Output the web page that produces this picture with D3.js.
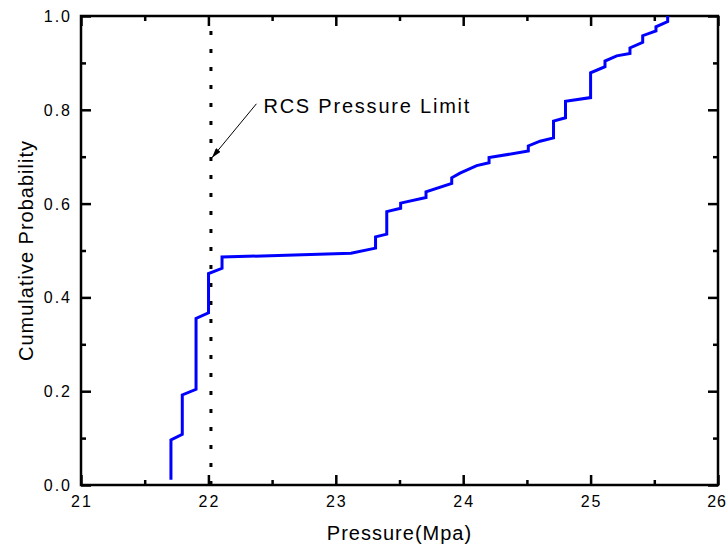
<!DOCTYPE html>
<html>
<head>
<meta charset="utf-8">
<script src="https://cdn.jsdelivr.net/npm/d3@7"></script>
<style>
  body { margin: 0; background: #fff; }
  text { font-family: Arial, "Liberation Sans", sans-serif; fill: #000; }
</style>
</head>
<body>
<svg id="chart" width="728" height="547"></svg>
<script>
// curve vertices (pressure in MPa, cumulative probability)
const pressure = [21.706, 21.706, 21.795, 21.795, 21.903, 21.903, 22.001, 22.001, 22.107, 22.107,
  23.119, 23.312, 23.312, 23.400, 23.400, 23.509, 23.509, 23.708, 23.708, 23.910,
  23.910, 23.975, 24.106, 24.203, 24.203, 24.511, 24.511, 24.603, 24.709, 24.709,
  24.803, 24.803, 25.000, 25.000, 25.113, 25.113, 25.205, 25.309, 25.309, 25.409,
  25.409, 25.513, 25.513, 25.605, 25.605];
const probability = [0.011, 0.096, 0.108, 0.192, 0.204, 0.355, 0.367, 0.451, 0.462, 0.486,
  0.494, 0.505, 0.529, 0.535, 0.583, 0.590, 0.601, 0.613, 0.625, 0.643,
  0.655, 0.665, 0.681, 0.687, 0.698, 0.712, 0.723, 0.733, 0.740, 0.776,
  0.783, 0.818, 0.826, 0.879, 0.892, 0.904, 0.915, 0.920, 0.932, 0.944,
  0.958, 0.968, 0.977, 0.988, 1.000];

const xMajor = [21, 22, 23, 24, 25, 26];
const xMinor = [21.5, 22.5, 23.5, 24.5, 25.5];
const yMajor = [0.0, 0.2, 0.4, 0.6, 0.8, 1.0];
const yMinor = [0.1, 0.3, 0.5, 0.7, 0.9];
const limitPressure = 22.02;
const limitLabel = "RCS Pressure Limit";
const xTitle = "Pressure(Mpa)";
const yTitle = "Cumulative Probability";

const margin = { left: 81, right: 10, top: 16, bottom: 62 };
const width = 728 - margin.left - margin.right;
const height = 547 - margin.top - margin.bottom;

const svg = d3.select("#chart");
const g = svg.append("g").attr("transform", `translate(${margin.left},${margin.top})`);

const x = d3.scaleLinear().domain([21, 26]).range([0, width]);
const y = d3.scaleLinear().domain([0, 1]).range([height, 0]);

// ticks on all four sides, pointing inward
function ticks(axis, vals, size, tx) {
  const a = g.append("g")
    .attr("transform", tx)
    .call(axis.tickValues(vals).tickSize(-size).tickSizeOuter(0).tickFormat(""));
  a.select(".domain").remove();
  a.selectAll("line").attr("stroke", "#000").attr("stroke-width", 2.5);
  return a;
}
ticks(d3.axisBottom(x), xMajor, 10, `translate(0,${height})`);
ticks(d3.axisBottom(x), xMinor, 5, `translate(0,${height})`);
ticks(d3.axisTop(x), xMajor, 10, "translate(0,0)");
ticks(d3.axisTop(x), xMinor, 5, "translate(0,0)");
ticks(d3.axisLeft(y), yMajor, 10, "translate(0,0)");
ticks(d3.axisLeft(y), yMinor, 5, "translate(0,0)");
ticks(d3.axisRight(y), yMajor, 10, `translate(${width},0)`);
ticks(d3.axisRight(y), yMinor, 5, `translate(${width},0)`);

// tick labels (last one kept inside the window)
const lastX = xMajor[xMajor.length - 1];
g.selectAll(".xlab").data(xMajor).enter().append("text")
  .attr("x", d => d === lastX ? width + margin.right - 1 : x(d) + 1)
  .attr("y", height + 22)
  .attr("text-anchor", d => d === lastX ? "end" : "middle")
  .attr("font-size", "16px")
  .attr("letter-spacing", d => d === lastX ? "1px" : "2px")
  .text(d => d);

g.selectAll(".ylab").data(yMajor).enter().append("text")
  .attr("x", -9)
  .attr("y", d => y(d) + 6)
  .attr("text-anchor", "end")
  .attr("font-size", "16px")
  .attr("letter-spacing", "2px")
  .text(d3.format(".1f"));

// frame
g.append("rect")
  .attr("width", width).attr("height", height)
  .attr("fill", "none").attr("stroke", "#000").attr("stroke-width", 2.5);

// pressure limit (dotted)
g.append("line")
  .attr("x1", x(limitPressure)).attr("x2", x(limitPressure))
  .attr("y1", y(0)).attr("y2", y(1))
  .attr("stroke", "#000").attr("stroke-width", 3)
  .attr("stroke-dasharray", "4,14");

// CDF curve
const pts = pressure.map((p, i) => [p, probability[i]]);
g.append("path")
  .datum(pts)
  .attr("fill", "none")
  .attr("stroke", "#0000ff")
  .attr("stroke-width", 3)
  .attr("d", d3.line().x(d => x(d[0])).y(d => y(d[1])));

// annotation with arrow
svg.append("defs").append("marker")
  .attr("id", "arrow")
  .attr("viewBox", "0 0 10 6")
  .attr("refX", 10).attr("refY", 3)
  .attr("markerWidth", 10).attr("markerHeight", 6)
  .attr("markerUnits", "userSpaceOnUse")
  .attr("orient", "auto")
  .append("path").attr("d", "M0,0L10,3L0,6Z").attr("fill", "#000");

g.append("line")
  .attr("x1", x(22.0) + 48).attr("y1", y(0.8) - 6)
  .attr("x2", x(limitPressure) + 1).attr("y2", y(0.7) + 1)
  .attr("stroke", "#000").attr("stroke-width", 1)
  .attr("marker-end", "url(#arrow)");

g.append("text")
  .attr("x", x(22.0) + 55)
  .attr("y", y(0.8) + 3)
  .attr("font-size", "20px")
  .attr("textLength", 206)
  .attr("lengthAdjust", "spacing")
  .text(limitLabel);

// axis titles
svg.append("text")
  .attr("x", margin.left + width / 2)
  .attr("y", 540)
  .attr("text-anchor", "middle")
  .attr("font-size", "20px")
  .attr("letter-spacing", "1px")
  .text(xTitle);

svg.append("text")
  .attr("transform", `translate(33,${margin.top + height / 2}) rotate(-90)`)
  .attr("text-anchor", "middle")
  .attr("font-size", "20px")
  .attr("letter-spacing", "1px")
  .text(yTitle);
</script>
</body>
</html>
